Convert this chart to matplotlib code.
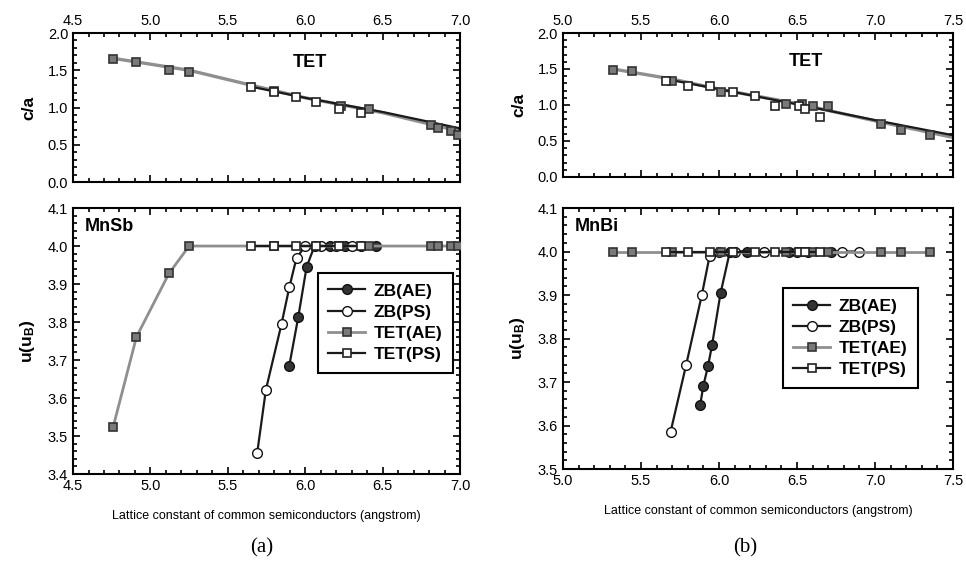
import matplotlib
matplotlib.use("Agg")
import matplotlib.pyplot as plt
from matplotlib.ticker import MultipleLocator, FormatStrFormatter

plt.rcParams["font.family"] = ["Liberation Sans", "DejaVu Sans"]
plt.rcParams["mathtext.fontset"] = "custom"
plt.rcParams["mathtext.rm"] = "Liberation Sans"
plt.rcParams["mathtext.bf"] = "Liberation Sans:bold"

# ---- (a) MnSb ----
a_tet_ae_x = [4.76, 4.91, 5.12, 5.25, 5.80, 6.23, 6.41, 6.81, 6.86, 6.94, 6.99]
a_tet_ae_ca = [1.65, 1.61, 1.50, 1.48, 1.22, 1.02, 0.98, 0.76, 0.72, 0.69, 0.63]
a_tet_ae_u = [3.525, 3.761, 3.928, 4.0, 4.0, 4.0, 4.0, 4.0, 4.0, 4.0, 4.0]
a_tet_ps_x = [5.65, 5.80, 5.94, 6.07, 6.22, 6.36]
a_tet_ps_ca = [1.27, 1.21, 1.14, 1.07, 0.98, 0.93]
a_tet_ps_u = [4.0, 4.0, 4.0, 4.0, 4.0, 4.0]
a_zb_ae_x = [5.897, 5.955, 6.009, 6.06, 6.16, 6.26, 6.36, 6.46]
a_zb_ae_u = [3.685, 3.813, 3.945, 4.0, 4.0, 4.0, 4.0, 4.0]
a_zb_ps_x = [5.69, 5.746, 5.847, 5.897, 5.944, 6.0, 6.1, 6.2, 6.3]
a_zb_ps_u = [3.456, 3.622, 3.795, 3.891, 3.969, 4.0, 4.0, 4.0, 4.0]
# trend lines drawn through the c/a points
a_fit_ae_x = [4.76, 5.25, 5.65, 6.0, 6.5, 7.0]
a_fit_ae_y = [1.66, 1.50, 1.30, 1.13, 0.93, 0.68]
a_fit_ps_x = [5.65, 6.0, 6.5, 7.0]
a_fit_ps_y = [1.28, 1.13, 0.94, 0.72]

# ---- (b) MnBi ----
b_tet_ae_x = [5.32, 5.44, 5.70, 6.015, 6.43, 6.53, 6.60, 6.70, 7.04, 7.17, 7.35]
b_tet_ae_ca = [1.48, 1.47, 1.33, 1.18, 1.01, 1.01, 0.98, 0.98, 0.74, 0.65, 0.58]
b_tet_ae_u = [4.0] * 11
b_tet_ps_x = [5.66, 5.80, 5.94, 6.09, 6.23, 6.36, 6.51, 6.55, 6.65]
b_tet_ps_ca = [1.34, 1.26, 1.26, 1.18, 1.13, 0.98, 0.98, 0.95, 0.84]
b_tet_ps_u = [4.0] * 9
b_zb_ae_x = [5.88, 5.90, 5.93, 5.955, 6.01, 6.07, 6.18, 6.45, 6.57, 6.72]
b_zb_ae_u = [3.648, 3.692, 3.737, 3.784, 3.904, 4.0, 4.0, 4.0, 4.0, 4.0]
b_zb_ps_x = [5.69, 5.79, 5.89, 5.94, 6.0, 6.1, 6.29, 6.50, 6.79, 6.90]
b_zb_ps_u = [3.586, 3.74, 3.90, 3.99, 4.0, 4.0, 4.0, 4.0, 4.0, 4.0]
b_fit_ae_x = [5.32, 5.7, 6.0, 6.5, 7.0, 7.5]
b_fit_ae_y = [1.50, 1.36, 1.22, 1.02, 0.78, 0.55]
b_fit_ps_x = [5.66, 6.0, 6.5, 7.0, 7.5]
b_fit_ps_y = [1.36, 1.22, 1.01, 0.79, 0.58]

GRAY = "#8f8f8f"
GRAYFILL = "#7a7a7a"
DARK = "#1a1a1a"
ms = 6


def style_axes(ax, ymajor, yminor, top_labels):
    ax.xaxis.set_major_locator(MultipleLocator(0.5))
    ax.xaxis.set_minor_locator(MultipleLocator(0.1))
    ax.yaxis.set_major_locator(MultipleLocator(ymajor))
    ax.yaxis.set_minor_locator(MultipleLocator(yminor))
    ax.tick_params(which="both", direction="in", top=True, right=True,
                   labelsize=10.5, width=1.2)
    ax.tick_params(which="major", length=5)
    ax.tick_params(which="minor", length=3)
    if top_labels:
        ax.tick_params(labeltop=True, labelbottom=False)
    for s in ax.spines.values():
        s.set_linewidth(1.5)
    ax.xaxis.set_major_formatter(FormatStrFormatter("%.1f"))
    ax.yaxis.set_major_formatter(FormatStrFormatter("%.1f"))


def draw_panel(ax_top, ax_bot, d, xlim, ylim_u, name, tet_x, leg_box):
    (tae_x, tae_ca, tae_u, tps_x, tps_ca, tps_u, zae_x, zae_u, zps_x, zps_u,
     fae_x, fae_y, fps_x, fps_y) = d
    # c/a panel
    ax_top.plot(fae_x, fae_y, color=GRAY, lw=2.4, zorder=2)
    ax_top.plot(fps_x, fps_y, color=DARK, lw=1.6, zorder=2)
    ax_top.plot(tae_x, tae_ca, "s", ms=ms, mfc=GRAYFILL, mec="#333333", mew=1.2, zorder=3)
    ax_top.plot(tps_x, tps_ca, "s", ms=ms, mfc="white", mec="#222222", mew=1.2, zorder=4)
    ax_top.set_xlim(*xlim)
    ax_top.set_ylim(0, 2.0)
    style_axes(ax_top, 0.5, 0.1, True)
    ax_top.text(tet_x, 1.6, "TET", fontsize=13, fontweight="bold", ha="center", va="center")
    ax_top.set_ylabel("c/a", fontsize=12.5, fontweight="bold", labelpad=8)

    # u panel
    l1, = ax_bot.plot(zae_x, zae_u, "-o", color=DARK, lw=1.6, ms=ms + 1,
                      mfc="#333333", mec="#111111", mew=1.0, zorder=3, label="ZB(AE)")
    l2, = ax_bot.plot(zps_x, zps_u, "-o", color=DARK, lw=1.6, ms=ms + 1,
                      mfc="white", mec="#111111", mew=1.0, zorder=3, label="ZB(PS)")
    l3, = ax_bot.plot(tae_x, tae_u, "-s", color=GRAY, lw=2.0, ms=ms,
                      mfc=GRAYFILL, mec="#333333", mew=1.2, zorder=4, label="TET(AE)")
    l4, = ax_bot.plot(tps_x, tps_u, "-s", color=DARK, lw=1.6, ms=ms,
                      mfc="white", mec="#222222", mew=1.2, zorder=5, label="TET(PS)")
    ax_bot.set_xlim(*xlim)
    ax_bot.set_ylim(*ylim_u)
    style_axes(ax_bot, 0.1, 0.02, False)
    ax_bot.set_ylabel(r"$\mathbf{u(u_B)}$", fontsize=12.5, labelpad=8)
    ax_bot.set_xlabel("Lattice constant of common semiconductors (angstrom)",
                      fontsize=9, labelpad=12)
    ax_bot.text(0.03, 0.93, name, transform=ax_bot.transAxes, fontsize=13,
                fontweight="bold", ha="left", va="center")
    leg = ax_bot.legend(handles=[l1, l2, l3, l4], loc="upper left",
                        bbox_to_anchor=leg_box, borderaxespad=0, fontsize=12.5,
                        frameon=True, fancybox=False, edgecolor="black",
                        framealpha=1, handlelength=2.1, borderpad=0.6,
                        labelspacing=0.35, handletextpad=0.5)
    leg.get_frame().set_linewidth(1.5)
    for t in leg.get_texts():
        t.set_fontweight("bold")


fig = plt.figure(figsize=(9.66, 5.72), dpi=100)

ax_a1 = fig.add_axes([0.0756, 0.6818, 0.4006, 0.2605])
ax_a2 = fig.add_axes([0.0756, 0.1713, 0.4006, 0.4650])
ax_b1 = fig.add_axes([0.5828, 0.6906, 0.4037, 0.2517])
ax_b2 = fig.add_axes([0.5828, 0.1800, 0.4037, 0.4563])

draw_panel(ax_a1, ax_a2,
           (a_tet_ae_x, a_tet_ae_ca, a_tet_ae_u, a_tet_ps_x, a_tet_ps_ca, a_tet_ps_u,
            a_zb_ae_x, a_zb_ae_u, a_zb_ps_x, a_zb_ps_u,
            a_fit_ae_x, a_fit_ae_y, a_fit_ps_x, a_fit_ps_y),
           (4.5, 7.0), (3.4, 4.1), "MnSb", 6.03, (0.633, 0.756))
draw_panel(ax_b1, ax_b2,
           (b_tet_ae_x, b_tet_ae_ca, b_tet_ae_u, b_tet_ps_x, b_tet_ps_ca, b_tet_ps_u,
            b_zb_ae_x, b_zb_ae_u, b_zb_ps_x, b_zb_ps_u,
            b_fit_ae_x, b_fit_ae_y, b_fit_ps_x, b_fit_ps_y),
           (5.0, 7.5), (3.5, 4.1), "MnBi", 6.56, (0.564, 0.693))

fig.text(262 / 966, 1 - 548 / 572, "(a)", fontsize=15, family="Liberation Serif",
         ha="center", va="center")
fig.text(745 / 966, 1 - 548 / 572, "(b)", fontsize=15, family="Liberation Serif",
         ha="center", va="center")

plt.savefig("out.png", dpi=100)
